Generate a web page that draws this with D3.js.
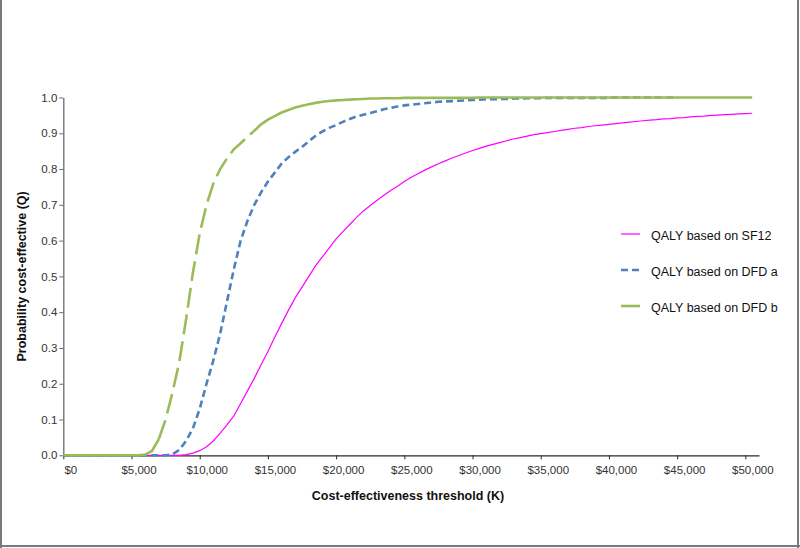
<!DOCTYPE html>
<html>
<head>
<meta charset="utf-8">
<script src="https://cdn.jsdelivr.net/npm/d3@7.9.0/dist/d3.min.js"></script>
<style>
  html, body { margin: 0; padding: 0; background: #fff; }
  svg { display: block; font-family: Arial, "Liberation Sans", sans-serif; }
</style>
</head>
<body>
<svg id="chart" width="800" height="548"></svg>
<script>
// willingness-to-pay thresholds (x values of every series)
const thresholds = [
  0, 500, 1000, 1500, 2000, 2500, 3000, 3500, 4000, 4500,
  5000, 5500, 6000, 6500, 7000, 7500, 8000, 8500, 9000, 9500,
  10000, 10500, 11000, 11500, 12000, 12500, 13000, 13500, 14000, 14500,
  15000, 15500, 16000, 16500, 17000, 17500, 18000, 18500, 19000, 19500,
  20000, 20500, 21000, 21500, 22000, 22500, 23000, 23500, 24000, 24500,
  25000, 25500, 26000, 26500, 27000, 27500, 28000, 28500, 29000, 29500,
  30000, 30500, 31000, 31500, 32000, 32500, 33000, 33500, 34000, 34500,
  35000, 35500, 36000, 36500, 37000, 37500, 38000, 38500, 39000, 39500,
  40000, 40500, 41000, 41500, 42000, 42500, 43000, 43500, 44000, 44500,
  45000, 45500, 46000, 46500, 47000, 47500, 48000, 48500, 49000, 49500,
  50000, 50500
];

const sf12 = [
  0, 0, 0, 0, 0, 0, 0, 0, 0, 0,
  0, 0, 0, 0, 0, 0, 0, 0, 0.002, 0.006,
  0.013, 0.024, 0.04, 0.062, 0.085, 0.11, 0.145, 0.18, 0.215, 0.253,
  0.29, 0.33, 0.368, 0.405, 0.44, 0.47, 0.5, 0.53, 0.555, 0.58,
  0.605, 0.625, 0.645, 0.665, 0.683, 0.698, 0.713, 0.727, 0.74, 0.752,
  0.765, 0.777, 0.787, 0.797, 0.806, 0.815, 0.823, 0.831, 0.838, 0.845,
  0.852, 0.858, 0.864, 0.869, 0.874, 0.879, 0.884, 0.888, 0.892, 0.896,
  0.899, 0.902, 0.905, 0.908, 0.911, 0.914, 0.916, 0.919, 0.921, 0.923,
  0.925, 0.927, 0.929, 0.931, 0.933, 0.935, 0.937, 0.938, 0.94, 0.941,
  0.943, 0.944, 0.946, 0.947, 0.948, 0.95, 0.951, 0.952, 0.953, 0.954,
  0.955, 0.956
];

// DFD a stops at $45,000
const dfdA = [
  0, 0, 0, 0, 0, 0, 0, 0, 0, 0,
  0, 0, 0, 0, 0, 0, 0.003, 0.015, 0.04, 0.075,
  0.13, 0.2, 0.265, 0.34, 0.43, 0.52, 0.6, 0.655, 0.7, 0.735,
  0.765, 0.79, 0.815, 0.833, 0.848, 0.862, 0.878, 0.893, 0.905, 0.915,
  0.923, 0.932, 0.94, 0.947, 0.952, 0.957, 0.962, 0.967, 0.971, 0.975,
  0.978, 0.98, 0.982, 0.984, 0.986, 0.988, 0.989, 0.99, 0.991, 0.992,
  0.993, 0.994, 0.995, 0.995, 0.996, 0.996, 0.997, 0.997, 0.998, 0.998,
  0.998, 0.999, 0.999, 0.999, 0.999, 0.999, 0.999, 0.999, 0.999, 0.999,
  0.999, 1, 1, 1, 1, 1, 1, 1, 1, 1,
  1
];

const dfdB = [
  0, 0, 0, 0, 0, 0, 0, 0, 0, 0,
  0, 0, 0.002, 0.012, 0.045, 0.1, 0.175, 0.26, 0.38, 0.51,
  0.62, 0.7, 0.76, 0.8, 0.83, 0.855, 0.872, 0.89, 0.907, 0.925,
  0.938, 0.948, 0.958, 0.965, 0.972, 0.977, 0.981, 0.985, 0.988, 0.99,
  0.992, 0.993, 0.994, 0.995, 0.996, 0.997, 0.997, 0.998, 0.998, 0.998,
  0.999, 0.999, 0.999, 0.999, 0.999, 0.999, 0.999, 0.999, 0.999, 0.999,
  0.999, 1, 1, 1, 1, 1, 1, 1, 1, 1,
  1, 1, 1, 1, 1, 1, 1, 1, 1, 1,
  1, 1, 1, 1, 1, 1, 1, 1, 1, 1,
  1, 1, 1, 1, 1, 1, 1, 1, 1, 1,
  1, 1
];

const seriesNames = ['QALY based on SF12', 'QALY based on DFD a', 'QALY based on DFD b'];
const xTicks = [0, 5000, 10000, 15000, 20000, 25000, 30000, 35000, 40000, 45000, 50000];
const yTicks = [0, 0.1, 0.2, 0.3, 0.4, 0.5, 0.6, 0.7, 0.8, 0.9, 1.0];

const svg = d3.select('#chart');

// outer frame (left, right, bottom edges visible)
const frame = svg.append('g').attr('stroke', '#7a7a7a').attr('stroke-width', 2);
frame.append('line').attr('x1', 1).attr('x2', 1).attr('y1', 0).attr('y2', 548);
frame.append('line').attr('x1', 798).attr('x2', 798).attr('y1', 0).attr('y2', 548);
frame.append('line').attr('x1', 0).attr('x2', 800).attr('y1', 546).attr('y2', 546);

const plot = { left: 63.3, right: 759, top: 97.5, bottom: 455.3 };

const x = d3.scaleLinear().domain([0, 51000]).range([plot.left, plot.right]);
const y = d3.scaleLinear().domain([0, 1]).range([plot.bottom, plot.top]);

// y axis
const yAxis = svg.append('g')
  .attr('transform', `translate(${plot.left},0)`)
  .call(d3.axisLeft(y).tickValues(yTicks).tickFormat(d3.format('.1f')).tickSize(4).tickSizeOuter(0));
yAxis.select('.domain').attr('stroke', '#6a6a6a').attr('stroke-width', 1.3);
yAxis.selectAll('.tick line').attr('stroke', '#6a6a6a');
yAxis.selectAll('text')
  .attr('x', -6)
  .attr('fill', '#333')
  .style('font-size', '11.5px');

// x axis
const xAxis = svg.append('g')
  .attr('transform', `translate(0,${plot.bottom})`)
  .call(d3.axisBottom(x).tickValues(xTicks)
    .tickFormat(d => '$' + d3.format(',')(d)).tickSize(4).tickSizeOuter(0));
xAxis.select('.domain').attr('stroke', '#2a2a2a').attr('stroke-width', 1.2);
xAxis.selectAll('.tick line').attr('stroke', '#2a2a2a');
xAxis.selectAll('text')
  .attr('y', 11)
  .attr('dx', 7)
  .attr('fill', '#333')
  .style('font-size', '11.5px');

// axis titles
svg.append('text')
  .attr('x', 408).attr('y', 500)
  .attr('text-anchor', 'middle')
  .style('font-size', '12.5px').style('font-weight', 'bold').attr('fill', '#111')
  .text('Cost-effectiveness threshold (K)');

svg.append('text')
  .attr('transform', `translate(26,${(plot.top + plot.bottom) / 2}) rotate(-90)`)
  .attr('text-anchor', 'middle')
  .style('font-size', '12.5px').style('font-weight', 'bold').attr('fill', '#111')
  .text('Probability cost-effective (Q)');

const line = d3.line().x(d => x(d[0])).y(d => y(d[1]));
const toPoints = vals => vals.map((v, i) => [thresholds[i], v]);

// SF12: thin solid magenta
svg.append('path')
  .datum(toPoints(sf12))
  .attr('d', line)
  .attr('fill', 'none')
  .attr('stroke', '#ff00ff')
  .attr('stroke-width', 1.2);

// DFD a: short dashes, blue
svg.append('path')
  .datum(toPoints(dfdA))
  .attr('d', line)
  .attr('fill', 'none')
  .attr('stroke', '#4f81bd')
  .attr('stroke-width', 2.6)
  .attr('stroke-dasharray', '7,4');

// DFD b: long dashes show only on the steep rise; the flat stretches read as solid
const ptsB = toPoints(dfdB);
const riseStart = dfdB.findIndex(v => v > 0.03);
const riseEnd = dfdB.findIndex(v => v >= 0.9);
const partsB = [
  { pts: ptsB.slice(0, riseStart + 1), dash: null },
  { pts: ptsB.slice(riseStart, riseEnd + 1), dash: '20,7' },
  { pts: ptsB.slice(riseEnd), dash: null }
];
svg.append('g')
  .selectAll('path')
  .data(partsB)
  .join('path')
  .attr('d', d => line(d.pts))
  .attr('fill', 'none')
  .attr('stroke', '#9bbb59')
  .attr('stroke-width', 2.6)
  .attr('stroke-dasharray', d => d.dash);

// legend
const legendItems = [
  { name: seriesNames[0], color: '#ff00ff', width: 1.2, dash: null },
  { name: seriesNames[1], color: '#4f81bd', width: 2.6, dash: '7,4' },
  { name: seriesNames[2], color: '#9bbb59', width: 2.6, dash: null }
];
const legend = svg.append('g')
  .selectAll('g')
  .data(legendItems)
  .join('g')
  .attr('transform', (d, i) => `translate(621,${234 + i * 36})`);
legend.append('line')
  .attr('x1', 0).attr('x2', 19)
  .attr('stroke', d => d.color)
  .attr('stroke-width', d => d.width)
  .attr('stroke-dasharray', d => d.dash);
legend.append('text')
  .attr('x', 30).attr('y', 2).attr('dy', '0.35em')
  .style('font-size', '12.5px').attr('fill', '#111')
  .text(d => d.name);
</script>
</body>
</html>
